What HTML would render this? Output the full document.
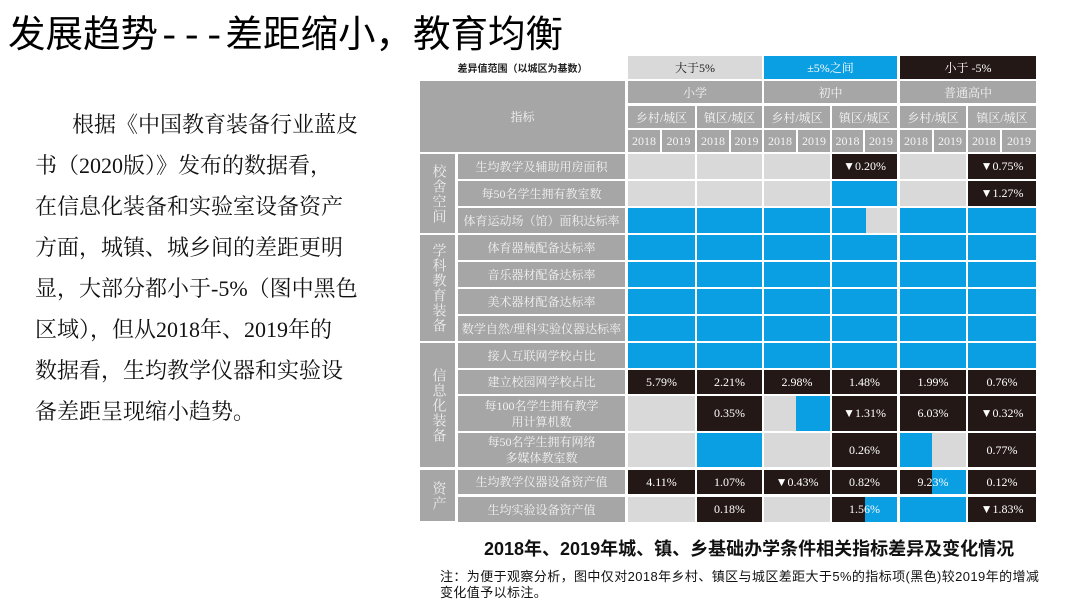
<!DOCTYPE html>
<html><head><meta charset="utf-8"><style>
body{margin:0;width:1080px;height:608px;background:#fff;position:relative;overflow:hidden;font-family:"Liberation Sans","Noto Sans CJK SC",sans-serif}
.c{position:absolute;box-sizing:border-box;display:flex;align-items:center;justify-content:center;text-align:center;white-space:nowrap}
.s{font-family:"Liberation Serif","Noto Serif CJK SC",serif}
.G{background:#d9d9d9}.B{background:#0a9ee2}.K{background:#231816;color:#fff}.H{background:#a6a6a6;color:#f4f4f4}
.t{font-family:"Liberation Serif","Noto Serif CJK SC",serif;font-size:12px;color:#fff}
.n{font-family:"Liberation Serif","Noto Serif CJK SC",serif;font-size:12px;color:#f2f2f2;line-height:16px}
.v{writing-mode:vertical-rl;font-family:"Liberation Serif","Noto Serif CJK SC",serif;font-size:14px;color:#eee;letter-spacing:1px}
</style></head><body>
<div style="position:absolute;left:8px;top:3px;font-size:37.5px;font-family:'Liberation Sans','Noto Sans CJK SC',sans-serif;white-space:nowrap;color:#000">发展趋势<span style="font-family:'Liberation Mono',monospace">---</span>差距缩小，教育均衡</div>
<div style="position:absolute;left:35px;top:104px;font-size:22px;line-height:41px;white-space:nowrap;color:#111;font-family:'Liberation Serif','Noto Serif CJK SC',serif">
<span style="padding-left:37px">根据《中国教育装备行业蓝皮</span><br>书（2020版）》发布的数据看，<br>在信息化装备和实验室设备资产<br>方面，城镇、城乡间的差距更明<br>显，大部分都小于-5%（图中黑色<br>区域），但从2018年、2019年的<br>数据看，生均教学仪器和实验设<br>备差距呈现缩小趋势。</div>

<!-- legend -->
<div class="c" style="left:420px;top:56px;width:205px;height:23px;font-size:10px;font-weight:bold;color:#222">差异值范围（以城区为基数）</div>
<div class="c G s" style="left:628px;top:56px;width:134px;height:23px;font-size:12px;color:#222">大于5%</div>
<div class="c B s" style="left:764px;top:56px;width:133px;height:23px;font-size:12px;color:#fff">±5%之间</div>
<div class="c K s" style="left:900px;top:56px;width:136px;height:23px;font-size:12px">小于 -5%</div>
<!-- header -->
<div class="c H s" style="left:420px;top:81px;width:205px;height:71px;font-size:12px">指标</div>
<div class="c H s" style="left:628px;top:81px;width:134px;height:22px;font-size:12px">小学</div>
<div class="c H s" style="left:764px;top:81px;width:133px;height:22px;font-size:12px">初中</div>
<div class="c H s" style="left:900px;top:81px;width:136px;height:22px;font-size:12px">普通高中</div>
<div class="c H s" style="left:628px;top:106px;width:67px;height:22px;font-size:12px">乡村/城区</div>
<div class="c H s" style="left:697px;top:106px;width:65px;height:22px;font-size:12px">镇区/城区</div>
<div class="c H s" style="left:764px;top:106px;width:66px;height:22px;font-size:12px">乡村/城区</div>
<div class="c H s" style="left:832px;top:106px;width:65px;height:22px;font-size:12px">镇区/城区</div>
<div class="c H s" style="left:900px;top:106px;width:66px;height:22px;font-size:12px">乡村/城区</div>
<div class="c H s" style="left:968px;top:106px;width:68px;height:22px;font-size:12px">镇区/城区</div>
<div class="c H s" style="left:628px;top:130px;width:32px;height:22px;font-size:12px">2018</div>
<div class="c H s" style="left:662px;top:130px;width:33px;height:22px;font-size:12px">2019</div>
<div class="c H s" style="left:697px;top:130px;width:32px;height:22px;font-size:12px">2018</div>
<div class="c H s" style="left:731px;top:130px;width:31px;height:22px;font-size:12px">2019</div>
<div class="c H s" style="left:764px;top:130px;width:32px;height:22px;font-size:12px">2018</div>
<div class="c H s" style="left:798px;top:130px;width:32px;height:22px;font-size:12px">2019</div>
<div class="c H s" style="left:832px;top:130px;width:31px;height:22px;font-size:12px">2018</div>
<div class="c H s" style="left:865px;top:130px;width:32px;height:22px;font-size:12px">2019</div>
<div class="c H s" style="left:900px;top:130px;width:32px;height:22px;font-size:12px">2018</div>
<div class="c H s" style="left:934px;top:130px;width:32px;height:22px;font-size:12px">2019</div>
<div class="c H s" style="left:968px;top:130px;width:32px;height:22px;font-size:12px">2018</div>
<div class="c H s" style="left:1002px;top:130px;width:34px;height:22px;font-size:12px">2019</div>

<!-- categories -->
<div class="c H v" style="left:420px;top:154px;width:35px;height:79px">校舍空间</div>
<div class="c H v" style="left:420px;top:235px;width:35px;height:106px">学科教育装备</div>
<div class="c H v" style="left:420px;top:343px;width:35px;height:124px">信息化装备</div>
<div class="c H v" style="left:420px;top:470px;width:35px;height:51px">资产</div>
<!-- names -->
<div class="c H n" style="left:458px;top:154px;width:167px;height:25px">生均教学及辅助用房面积</div>
<div class="c H n" style="left:458px;top:181px;width:167px;height:25px">每50名学生拥有教室数</div>
<div class="c H n" style="left:458px;top:208px;width:167px;height:25px">体育运动场（馆）面积达标率</div>
<div class="c H n" style="left:458px;top:235px;width:167px;height:25px">体育器械配备达标率</div>
<div class="c H n" style="left:458px;top:262px;width:167px;height:25px">音乐器材配备达标率</div>
<div class="c H n" style="left:458px;top:289px;width:167px;height:25px">美术器材配备达标率</div>
<div class="c H n" style="left:458px;top:316px;width:167px;height:25px">数学自然/理科实验仪器达标率</div>
<div class="c H n" style="left:458px;top:343px;width:167px;height:25px">接人互联网学校占比</div>
<div class="c H n" style="left:458px;top:370px;width:167px;height:24px">建立校园网学校占比</div>
<div class="c H n" style="left:458px;top:396px;width:167px;height:35px">每100名学生拥有教学<br>用计算机数</div>
<div class="c H n" style="left:458px;top:433px;width:167px;height:34px">每50名学生拥有网络<br>多媒体教室数</div>
<div class="c H n" style="left:458px;top:470px;width:167px;height:24px">生均教学仪器设备资产值</div>
<div class="c H n" style="left:458px;top:497px;width:167px;height:25px">生均实验设备资产值</div>

<!-- R1 -->
<div class="c G" style="left:628px;top:154px;width:67px;height:25px"></div>
<div class="c G" style="left:697px;top:154px;width:65px;height:25px"></div>
<div class="c G" style="left:764px;top:154px;width:66px;height:25px"></div>
<div class="c K t" style="left:832px;top:154px;width:65px;height:25px">▼0.20%</div>
<div class="c G" style="left:900px;top:154px;width:66px;height:25px"></div>
<div class="c K t" style="left:968px;top:154px;width:68px;height:25px">▼0.75%</div>
<!-- R2 -->
<div class="c G" style="left:628px;top:181px;width:67px;height:25px"></div>
<div class="c G" style="left:697px;top:181px;width:65px;height:25px"></div>
<div class="c G" style="left:764px;top:181px;width:66px;height:25px"></div>
<div class="c B" style="left:832px;top:181px;width:65px;height:25px"></div>
<div class="c G" style="left:900px;top:181px;width:66px;height:25px"></div>
<div class="c K t" style="left:968px;top:181px;width:68px;height:25px">▼1.27%</div>
<!-- R3-R8 blue -->
<div class="c B" style="left:628px;top:208px;width:67px;height:25px"></div><div class="c B" style="left:697px;top:208px;width:65px;height:25px"></div><div class="c B" style="left:764px;top:208px;width:66px;height:25px"></div><div class="c B" style="left:832px;top:208px;width:65px;height:25px"></div><div class="c G" style="left:866px;top:208px;width:31px;height:25px"></div><div class="c B" style="left:900px;top:208px;width:66px;height:25px"></div><div class="c B" style="left:968px;top:208px;width:68px;height:25px"></div>
<div class="c B" style="left:628px;top:235px;width:67px;height:25px"></div><div class="c B" style="left:697px;top:235px;width:65px;height:25px"></div><div class="c B" style="left:764px;top:235px;width:66px;height:25px"></div><div class="c B" style="left:832px;top:235px;width:65px;height:25px"></div><div class="c B" style="left:900px;top:235px;width:66px;height:25px"></div><div class="c B" style="left:968px;top:235px;width:68px;height:25px"></div>
<div class="c B" style="left:628px;top:262px;width:67px;height:25px"></div><div class="c B" style="left:697px;top:262px;width:65px;height:25px"></div><div class="c B" style="left:764px;top:262px;width:66px;height:25px"></div><div class="c B" style="left:832px;top:262px;width:65px;height:25px"></div><div class="c B" style="left:900px;top:262px;width:66px;height:25px"></div><div class="c B" style="left:968px;top:262px;width:68px;height:25px"></div>
<div class="c B" style="left:628px;top:289px;width:67px;height:25px"></div><div class="c B" style="left:697px;top:289px;width:65px;height:25px"></div><div class="c B" style="left:764px;top:289px;width:66px;height:25px"></div><div class="c B" style="left:832px;top:289px;width:65px;height:25px"></div><div class="c B" style="left:900px;top:289px;width:66px;height:25px"></div><div class="c B" style="left:968px;top:289px;width:68px;height:25px"></div>
<div class="c B" style="left:628px;top:316px;width:67px;height:25px"></div><div class="c B" style="left:697px;top:316px;width:65px;height:25px"></div><div class="c B" style="left:764px;top:316px;width:66px;height:25px"></div><div class="c B" style="left:832px;top:316px;width:65px;height:25px"></div><div class="c B" style="left:900px;top:316px;width:66px;height:25px"></div><div class="c B" style="left:968px;top:316px;width:68px;height:25px"></div>
<div class="c B" style="left:628px;top:343px;width:67px;height:25px"></div><div class="c B" style="left:697px;top:343px;width:65px;height:25px"></div><div class="c B" style="left:764px;top:343px;width:66px;height:25px"></div><div class="c B" style="left:832px;top:343px;width:65px;height:25px"></div><div class="c B" style="left:900px;top:343px;width:66px;height:25px"></div><div class="c B" style="left:968px;top:343px;width:68px;height:25px"></div>
<!-- R9 -->
<div class="c K t" style="left:628px;top:370px;width:67px;height:24px">5.79%</div>
<div class="c K t" style="left:697px;top:370px;width:65px;height:24px">2.21%</div>
<div class="c K t" style="left:764px;top:370px;width:66px;height:24px">2.98%</div>
<div class="c K t" style="left:832px;top:370px;width:65px;height:24px">1.48%</div>
<div class="c K t" style="left:900px;top:370px;width:66px;height:24px">1.99%</div>
<div class="c K t" style="left:968px;top:370px;width:68px;height:24px">0.76%</div>
<!-- R10 -->
<div class="c G" style="left:628px;top:396px;width:67px;height:35px"></div>
<div class="c K t" style="left:697px;top:396px;width:65px;height:35px">0.35%</div>
<div class="c G" style="left:764px;top:396px;width:66px;height:35px"></div><div class="c B" style="left:796px;top:396px;width:34px;height:35px"></div>
<div class="c K t" style="left:832px;top:396px;width:65px;height:35px">▼1.31%</div>
<div class="c K t" style="left:900px;top:396px;width:66px;height:35px">6.03%</div>
<div class="c K t" style="left:968px;top:396px;width:68px;height:35px">▼0.32%</div>
<!-- R11 -->
<div class="c G" style="left:628px;top:433px;width:67px;height:34px"></div>
<div class="c B" style="left:697px;top:433px;width:65px;height:34px"></div>
<div class="c G" style="left:764px;top:433px;width:66px;height:34px"></div>
<div class="c K t" style="left:832px;top:433px;width:65px;height:34px">0.26%</div>
<div class="c G" style="left:900px;top:433px;width:66px;height:34px"></div><div class="c B" style="left:900px;top:433px;width:32px;height:34px"></div>
<div class="c K t" style="left:968px;top:433px;width:68px;height:34px">0.77%</div>
<!-- R12 -->
<div class="c K t" style="left:628px;top:470px;width:67px;height:24px">4.11%</div>
<div class="c K t" style="left:697px;top:470px;width:65px;height:24px">1.07%</div>
<div class="c K t" style="left:764px;top:470px;width:66px;height:24px">▼0.43%</div>
<div class="c K t" style="left:832px;top:470px;width:65px;height:24px">0.82%</div>
<div class="c K" style="left:900px;top:470px;width:66px;height:24px"></div><div class="c B" style="left:932px;top:470px;width:34px;height:24px"></div><div class="c t" style="left:900px;top:470px;width:66px;height:24px">9.23%</div>
<div class="c K t" style="left:968px;top:470px;width:68px;height:24px">0.12%</div>
<!-- R13 -->
<div class="c G" style="left:628px;top:497px;width:67px;height:25px"></div>
<div class="c K t" style="left:697px;top:497px;width:65px;height:25px">0.18%</div>
<div class="c G" style="left:764px;top:497px;width:66px;height:25px"></div>
<div class="c K" style="left:832px;top:497px;width:65px;height:25px"></div><div class="c B" style="left:865px;top:497px;width:32px;height:25px"></div><div class="c t" style="left:832px;top:497px;width:65px;height:25px">1.56%</div>
<div class="c B" style="left:900px;top:497px;width:66px;height:25px"></div>
<div class="c K t" style="left:968px;top:497px;width:68px;height:25px">▼1.83%</div>

<div style="position:absolute;left:484px;top:535px;font-size:18px;font-weight:bold;color:#111;white-space:nowrap">2018年、2019年城、镇、乡基础办学条件相关指标差异及变化情况</div>
<div style="position:absolute;left:440px;top:569px;font-size:13px;line-height:16px;letter-spacing:0.4px;color:#111;white-space:nowrap">注：为便于观察分析，图中仅对2018年乡村、镇区与城区差距大于5%的指标项(黑色)较2019年的增减<br>变化值予以标注。</div>
</body></html>
